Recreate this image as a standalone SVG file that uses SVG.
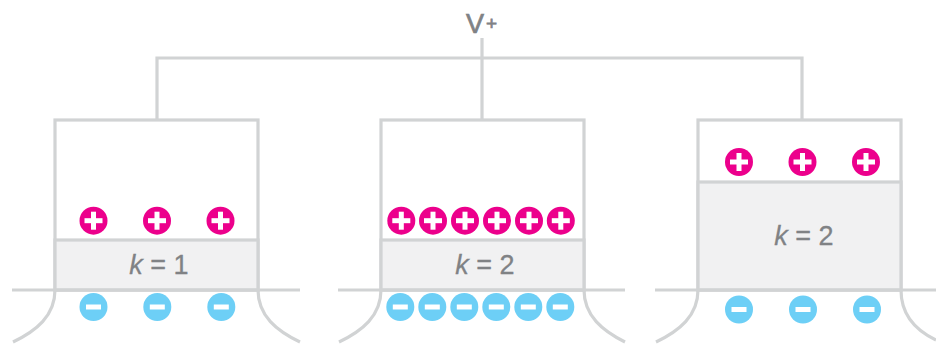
<svg xmlns="http://www.w3.org/2000/svg" xmlns:xlink="http://www.w3.org/1999/xlink" width="936" height="344" viewBox="0 0 936 344">
<style>
.w{fill:none;stroke:#d1d3d4;stroke-width:3.2}
.d{fill:#f1f1f2;stroke:#d1d3d4;stroke-width:3.2}
.t{font-family:"Liberation Sans",Arial,sans-serif;font-size:27px;fill:#808285;stroke:#808285;stroke-width:.3;text-anchor:middle}
.v{font-family:"Liberation Sans",Arial,sans-serif;fill:#808285;stroke:#808285;stroke-width:.7}
.k{font-style:italic}
.pc{fill:#ec008c}.mc{fill:#6dcff6}
.g{fill:#fff}
</style>
<defs>
<g id="plus"><circle class="pc" r="14"/><rect class="g" x="-9" y="-2.500" width="18" height="5"/><rect class="g" x="-2.500" y="-9" width="5" height="18"/></g>
<g id="minus"><circle class="mc" r="14"/><rect class="g" x="-7.500" y="-2.500" width="15" height="5"/></g>
</defs>
<rect width="936" height="344" fill="#fff"/>
<g id="connectors">
<path class="w" d="M157 120V58H802V120M482 38V120"/>
</g>
<g id="vplus">
<text class="v" x="466" y="33" font-size="27">V</text>
<text class="v" x="491.500" y="30" font-size="19" text-anchor="middle">+</text>
</g>
<g id="cap1">
<rect class="w" x="55" y="120" width="203" height="170"/>
<rect class="d" x="55" y="240" width="203" height="50"/>
<path class="w" d="M12 290H300M55 290C55 316 36 331 13 342M258 290C258 316 277 331 300 342"/>
<text class="t" x="159" y="274"><tspan class="k">k</tspan> = 1</text>
<use xlink:href="#plus" x="93.500" y="220.700"/><use xlink:href="#plus" x="157" y="220.700"/><use xlink:href="#plus" x="220.500" y="220.700"/>
<use xlink:href="#minus" x="93.500" y="307"/><use xlink:href="#minus" x="157.300" y="307"/><use xlink:href="#minus" x="221.300" y="307"/>
</g>
<g id="cap2">
<rect class="w" x="381" y="120" width="203" height="170"/>
<rect class="d" x="381" y="240" width="203" height="50"/>
<path class="w" d="M338 290H625M381 290C381 316 362 331 339 342M584 290C584 316 603 331 625 342"/>
<text class="t" x="485" y="274"><tspan class="k">k</tspan> = 2</text>
<use xlink:href="#plus" x="401.300" y="220.700"/><use xlink:href="#plus" x="433" y="220.700"/><use xlink:href="#plus" x="465" y="220.700"/><use xlink:href="#plus" x="497" y="220.700"/><use xlink:href="#plus" x="529" y="220.700"/><use xlink:href="#plus" x="560.800" y="220.700"/>
<use xlink:href="#minus" x="400.300" y="307"/><use xlink:href="#minus" x="432.300" y="307"/><use xlink:href="#minus" x="464.300" y="307"/><use xlink:href="#minus" x="496.300" y="307"/><use xlink:href="#minus" x="528.300" y="307"/><use xlink:href="#minus" x="560.300" y="307"/>
</g>
<g id="cap3">
<rect class="w" x="698" y="120" width="203" height="170"/>
<rect class="d" x="698" y="182" width="203" height="108"/>
<path class="w" d="M655 290H936M698 290C698 316 679 331 656 342M901 290C901 316 917 331 936 340"/>
<text class="t" x="804" y="245"><tspan class="k">k</tspan> = 2</text>
<use xlink:href="#plus" x="739" y="162"/><use xlink:href="#plus" x="802.500" y="162"/><use xlink:href="#plus" x="866" y="162"/>
<use xlink:href="#minus" x="739" y="309.500"/><use xlink:href="#minus" x="803" y="309.500"/><use xlink:href="#minus" x="867" y="309.500"/>
</g>
</svg>
